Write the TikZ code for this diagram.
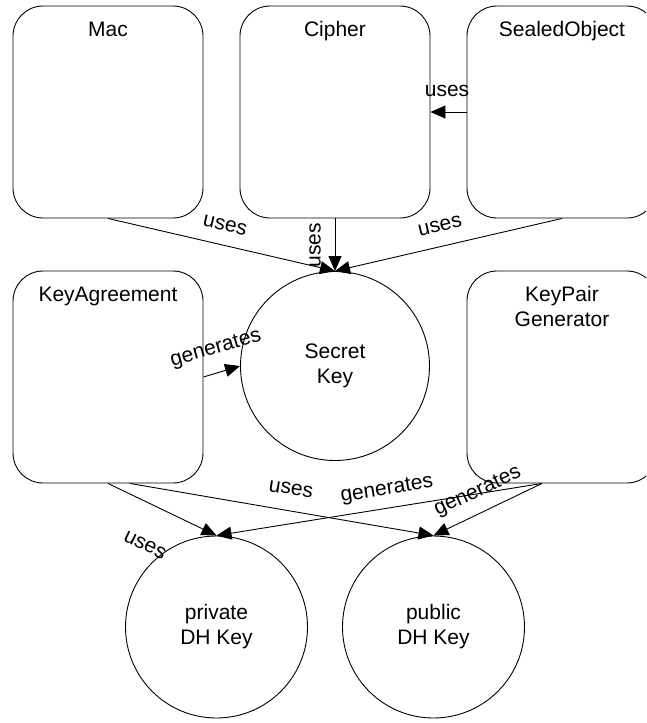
\documentclass[tikz,border=0pt]{standalone}
\usepackage{fontspec}
\setmainfont{Liberation Sans}
\usetikzlibrary{arrows.meta}
\begin{document}
\begin{tikzpicture}[x=1pt,y=-1pt,
  every node/.style={font=\fontsize{21}{25}\selectfont},
  comp/.style={draw, rounded corners=30pt, minimum width=190pt, minimum height=212pt, inner sep=0pt, line width=0.9pt},
  title/.style={anchor=north, inner sep=0pt, yshift=-16pt, align=center},
  keycirc/.style={draw, circle, inner sep=0pt, align=center, line width=0.9pt},
  link/.style={line width=0.9pt, -{Triangle[length=15pt,width=13pt]}},
  lbl/.style={inner sep=0pt}
]
\clip (0,0) rectangle (646,723);
\fill[white] (0,0) rectangle (646,723);

% engine classes
\node[comp, label={[title]north:Mac}] (mac) at (108,112) {};
\node[comp, label={[title]north:Cipher}] (cipher) at (335,112) {};
\node[comp, label={[title]north:SealedObject}] (sealed) at (562,112) {};
\node[comp, label={[title]north:KeyAgreement}] (ka) at (108,377) {};
\node[comp, label={[title]north:{KeyPair\\Generator}}] (kpg) at (562,377) {};

% keys
\node[keycirc, minimum size=189pt] (sk) at (335,366) {Secret\\Key};
\node[keycirc, minimum size=182pt] (priv) at (216.5,627) {private\\DH Key};
\node[keycirc, minimum size=182pt] (pub) at (433.5,627) {public\\DH Key};

% relations
\draw[link] (mac.south) -- (sk.north);
\draw[link] (cipher.south) -- (sk.north);
\draw[link] (sealed.south) -- (sk.north);
\draw[link] (sealed.west) -- (cipher.east);
\draw[link] (ka.east) -- (sk.west);
\draw[link] (ka.south) -- (priv.north);
\draw[link] ([xshift=22pt]ka.south) -- (pub.north);
\draw[link] ([xshift=-20pt]kpg.south) -- (priv.north);
\draw[link] ([xshift=-20pt]kpg.south) -- (pub.north);

% relation labels
\node[lbl, rotate=-13] (l1) at (225,225) {uses};
\node[lbl, rotate=90] (l2) at (315,245) {uses};
\node[lbl] (l3) at (447,91) {uses};
\node[lbl, rotate=13] (l4) at (440,226) {uses};
\node[lbl, rotate=16] (l5) at (216,349) {generates};
\node[lbl, rotate=-26] (l6) at (145,545) {uses};
\node[lbl, rotate=-9] (l7) at (291,489) {uses};
\node[lbl, rotate=9] (l8) at (387,490) {generates};
\node[lbl, rotate=25] (l9) at (478,492) {generates};
\end{tikzpicture}
\end{document}
